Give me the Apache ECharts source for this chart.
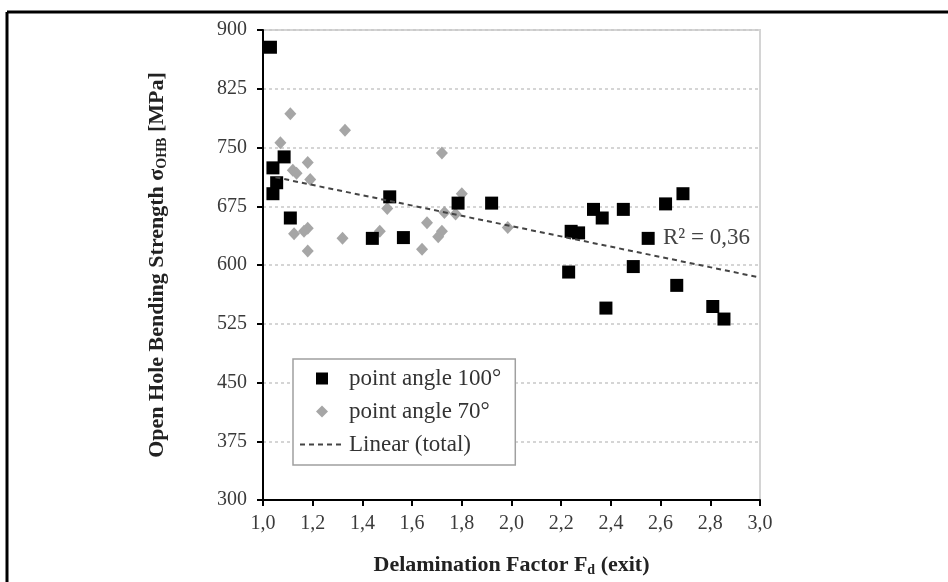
<!DOCTYPE html>
<html>
<head>
<meta charset="utf-8">
<script src="https://cdn.jsdelivr.net/npm/echarts@6/dist/echarts.min.js"></script>
<style>html,body{margin:0;padding:0;background:#fff;}#c{width:948px;height:582px;}</style>
</head>
<body>
<div id="c"></div>
<script>
const angle100 = [
  [1.03, 878], [1.04, 724], [1.085, 738], [1.055, 705], [1.04, 691], [1.11, 660],
  [1.51, 687], [1.44, 634], [1.565, 635], [1.785, 679], [1.92, 679],
  [2.24, 643], [2.27, 641], [2.23, 591], [2.33, 671], [2.365, 660], [2.45, 671],
  [2.38, 545], [2.49, 598], [2.55, 634], [2.62, 678], [2.69, 691], [2.665, 574],
  [2.81, 547], [2.855, 531]
];
const angle70 = [
  [1.11, 793], [1.07, 756], [1.33, 772], [1.18, 731], [1.12, 721], [1.135, 717],
  [1.19, 709], [1.72, 743], [1.80, 691], [1.50, 672], [1.73, 667], [1.775, 665],
  [1.66, 654], [1.18, 647], [1.165, 643], [1.125, 640], [1.32, 634], [1.47, 643],
  [1.72, 643], [1.705, 636], [1.18, 618], [1.64, 620], [1.985, 648]
];
const trendTotal = [[1.05, 712], [3.0, 584]];
const seriesNames = ['point angle 100°', 'point angle 70°', 'Linear (total)'];
const xTitle = 'Delamination Factor ';
const yTitle = 'Open Hole Bending Strength σ';
const rSquared = 'R² = 0,36';

const serif = 'Liberation Serif';
const chart = echarts.init(document.getElementById('c'), null, {renderer: 'canvas'});
chart.setOption({
  animation: false,
  backgroundColor: '#fff',
  grid: {left: 263, top: 30, right: 188, bottom: 82, show: true, borderColor: '#d4d4d4', borderWidth: 2, backgroundColor: 'transparent'},
  xAxis: {
    type: 'value', min: 1.0, max: 3.0, interval: 0.2,
    axisLine: {show: true, onZero: false, lineStyle: {color: '#000', width: 2}},
    axisTick: {show: true, length: 6, lineStyle: {color: '#000', width: 2}},
    splitLine: {show: false},
    axisLabel: {margin: 14, fontFamily: serif, fontSize: 20, color: '#3a3a3a',
      formatter: v => v.toFixed(1).replace('.', ',')},
    name: '{a|' + xTitle + 'F}{s|d}{a| (exit)}',
    nameLocation: 'middle', nameGap: 53,
    nameTextStyle: {rich: {
      a: {fontFamily: serif, fontWeight: 'bold', fontSize: 22, color: '#222'},
      s: {fontFamily: serif, fontWeight: 'bold', fontSize: 14, color: '#222', verticalAlign: 'bottom', padding: [10, 0, 0, 0]}
    }}
  },
  yAxis: {
    type: 'value', min: 300, max: 900, interval: 75,
    axisLine: {show: true, onZero: false, lineStyle: {color: '#000', width: 2}},
    axisTick: {show: true, length: 6, lineStyle: {color: '#000', width: 2}},
    splitLine: {show: true, lineStyle: {color: '#c8c8c8', type: [3, 3], width: 1.5}},
    axisLabel: {margin: 16, fontFamily: serif, fontSize: 20, color: '#3a3a3a'},
    name: '{a|' + yTitle + '}{s|OHB}{a| [MPa]}',
    nameLocation: 'middle', nameGap: 94, nameRotate: 90,
    nameTextStyle: {rich: {
      a: {fontFamily: serif, fontWeight: 'bold', fontSize: 22, color: '#222'},
      s: {fontFamily: serif, fontWeight: 'bold', fontSize: 14, color: '#222', verticalAlign: 'bottom', padding: [10, 0, 0, 0]}
    }}
  },
  legend: {
    orient: 'vertical', left: 293, top: 359,
    padding: [8, 14, 9, 6],
    itemGap: 10, itemWidth: 44, itemHeight: 12,
    backgroundColor: '#fff',
    borderColor: '#a0a0a0', borderWidth: 1.5, borderRadius: 0,
    textStyle: {fontFamily: serif, fontSize: 23, color: '#333'},
    data: [
      {name: seriesNames[0], icon: 'path://M0,0h10v10h-10z', itemStyle: {color: '#000', opacity: 1}},
      {name: seriesNames[1], icon: 'path://M5,0L10,5L5,10L0,5Z', itemStyle: {color: '#a6a6a6', opacity: 1}},
      {name: seriesNames[2], itemStyle: {opacity: 0}}
    ]
  },
  series: [
    {
      name: seriesNames[1], type: 'scatter', data: angle70,
      symbol: 'diamond', symbolSize: [12, 13],
      itemStyle: {color: '#a6a6a6', opacity: 1}, z: 3
    },
    {
      name: seriesNames[0], type: 'scatter', data: angle100,
      symbol: 'rect', symbolSize: 13,
      itemStyle: {color: '#000', opacity: 1}, z: 4
    },
    {
      name: seriesNames[2], type: 'line', data: trendTotal,
      symbol: 'none', showSymbol: false,
      lineStyle: {color: '#444', width: 2, type: [5, 4]},
      itemStyle: {color: '#444'}, z: 5
    }
  ],
  graphic: [
    {type: 'text', left: 663, top: 226, z: 10,
      style: {text: rSquared, fontFamily: serif, fontSize: 23, fill: '#444'}},
    {type: 'line', shape: {x1: 7, y1: 12, x2: 948, y2: 12}, style: {stroke: '#000', lineWidth: 3}},
    {type: 'line', shape: {x1: 7, y1: 12, x2: 7, y2: 582}, style: {stroke: '#000', lineWidth: 3}}
  ]
});
</script>
</body>
</html>
